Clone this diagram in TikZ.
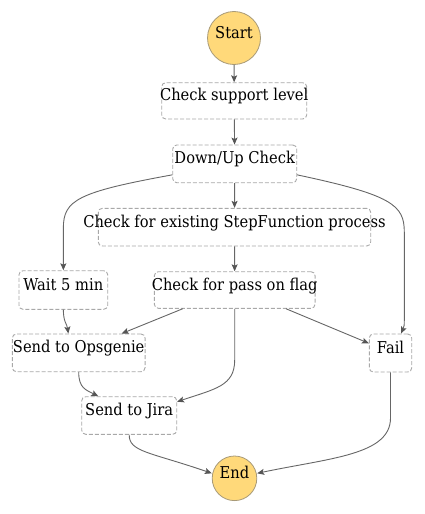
\documentclass[tikz,border=0pt]{standalone}
\usepackage{fontspec}
\setmainfont[FakeStretch=0.9]{DejaVu Serif}
\usetikzlibrary{arrows.meta}
\definecolor{edgec}{HTML}{666666}
\definecolor{tipc}{HTML}{555555}
\definecolor{dashc}{HTML}{A8A8A8}
\definecolor{termfill}{HTML}{FFD97A}
\definecolor{termline}{HTML}{A89A78}
\newcommand{\zt}[1]{\makebox[0pt][c]{#1}}
\tikzset{
  every node/.style={font=\fontsize{16.3}{19}\selectfont, inner sep=0pt, text height=0pt, text depth=0pt},
  stepbox/.style={draw=dashc, line width=0.9pt, dash pattern=on 4pt off 2pt, rounded corners=4pt, fill=white, rectangle},
  term/.style={draw=termline, line width=0.8pt, fill=termfill, circle},
  conn/.style={draw=edgec, line width=0.9pt, -{Stealth[length=7pt,width=6pt,inset=1.5pt,color=tipc]}},
}
\begin{document}
\begin{tikzpicture}[x=1pt,y=-1pt]
\useasboundingbox (0,0) rectangle (424,514);
\node[term, minimum size=53pt] (start) at (234,38) {\zt{Start}};
\node[stepbox, minimum width=145pt, minimum height=36.3pt] (csl) at (234.2,100.85) {\zt{Check support level}};
\node[stepbox, minimum width=124pt, minimum height=37.7pt] (du) at (234.7,163.85) {\zt{Down/Up Check}};
\node[stepbox, minimum width=272.4pt, minimum height=37.7pt] (cex) at (234.5,227.15) {\zt{Check for existing StepFunction process}};
\node[stepbox, minimum width=160.7pt, minimum height=36.6pt] (cpf) at (234.7,290) {\zt{Check for pass on flag}};
\node[stepbox, minimum width=88.7pt, minimum height=38.6pt] (wait) at (63.35,290) {\zt{Wait 5 min}};
\node[stepbox, minimum width=132.7pt, minimum height=37.7pt] (ops) at (78.7,352.85) {\zt{Send to Opsgenie}};
\node[stepbox, minimum width=95pt, minimum height=37.6pt] (jira) at (129.2,415.5) {\zt{Send to Jira}};
\node[stepbox, minimum width=42.4pt, minimum height=38pt] (fail) at (390.5,353) {\zt{Fail}};
\node[term, minimum size=44.6pt] (end) at (234.5,478.3) {\zt{End}};

\draw[conn] (start) -- (csl);
\draw[conn] (csl) -- (du);
\draw[conn] (du) -- (cex);
\draw[conn] (cex) -- (cpf);
\draw[conn] ([yshift=-11pt]du.west) .. controls (78,192) and (63.35,200) .. (63.35,228) -- (wait.north);
\draw[conn] ([yshift=-11pt]du.east) .. controls (392,195) and (404.3,205) .. (404.3,232) -- (404.3,318) .. controls (404.3,326) .. ([xshift=10.5pt]fail.north);
\draw[conn] (wait.south) .. controls (63.35,322) and (67,324) .. ([xshift=-10.4pt]ops.north);
\draw[conn] ([xshift=-52pt]cpf.south) -- ([xshift=43pt]ops.north);
\draw[conn] (cpf.south) -- (234.7,360) .. controls (234.7,386) and (215,389) .. ([yshift=13.8pt]jira.east);
\draw[conn] ([xshift=51.3pt]cpf.south) -- ([yshift=9.7pt]fail.west);
\draw[conn] (ops.south) .. controls (78.7,388) and (86,390) .. ([xshift=-30.9pt]jira.north);
\draw[conn] (jira.south) .. controls (129,452) and (150,452) .. ([yshift=5pt]end.west);
\draw[conn] (fail.south) -- (390.5,418) .. controls (390.5,455) and (330,458) .. ([yshift=5pt]end.east);
\end{tikzpicture}
\end{document}
